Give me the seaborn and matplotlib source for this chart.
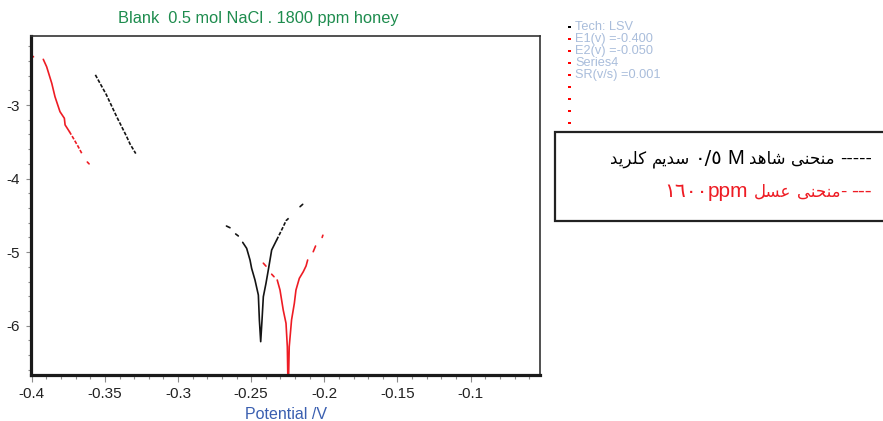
import matplotlib
matplotlib.use("Agg")
import matplotlib.pyplot as plt
import seaborn as sns
import pandas as pd
from matplotlib.ticker import MultipleLocator
from matplotlib.patches import Rectangle
from matplotlib import font_manager
from matplotlib.ft2font import FT2Font

# ---------------- data (potential in V, log current) ----------------
blank_potential = [-0.3565, -0.3490, -0.3419, -0.3351, -0.3328, -0.3289,
                   -0.2669, -0.2645,
                   -0.2606, -0.2588,
                   -0.2558, -0.2531, -0.2508, -0.2497, -0.2474, -0.2451, -0.2444, -0.2435,
                   -0.2426, -0.2417, -0.2399, -0.2383, -0.2360, -0.2326,
                   -0.2326, -0.2303, -0.2281, -0.2262, -0.2240,
                   -0.2166, -0.2148]
blank_logi = [-2.59, -2.86, -3.16, -3.43, -3.53, -3.66,
              -4.645, -4.668,
              -4.753, -4.78,
              -4.867, -4.948, -5.107, -5.22, -5.379, -5.583, -5.923, -6.217,
              -5.923, -5.606, -5.425, -5.243, -4.971, -4.835,
              -4.835, -4.744, -4.654, -4.573, -4.532,
              -4.382, -4.35]
blank_segment = ["b1"] * 6 + ["b2"] * 2 + ["b3"] * 2 + ["b4"] * 14 + ["b5"] * 5 + ["b6"] * 2

honey_potential = [-0.3998, -0.3988,
                   -0.3921, -0.3898, -0.3863, -0.3841, -0.3807, -0.3777, -0.3772, -0.3743,
                   -0.3743, -0.3716, -0.3682, -0.3658,
                   -0.3620, -0.3608,
                   -0.2417, -0.2399,
                   -0.2360, -0.2344,
                   -0.2322, -0.2303, -0.2281, -0.2262, -0.2253, -0.2249, -0.2245, -0.2240,
                   -0.2224, -0.2205, -0.2194, -0.2171, -0.2144, -0.2125, -0.2114,
                   -0.2076, -0.2060,
                   -0.2015, -0.2010]
honey_logi = [-2.33, -2.345,
              -2.379, -2.48, -2.705, -2.887, -3.09, -3.18, -3.27, -3.36,
              -3.36, -3.45, -3.567, -3.657,
              -3.775, -3.80,
              -5.15, -5.19,
              -5.30, -5.334,
              -5.379, -5.515, -5.787, -5.967, -6.285, -6.75, -6.75, -6.285,
              -5.92, -5.695, -5.515, -5.356, -5.266, -5.188, -5.107,
              -4.994, -4.917,
              -4.80, -4.77]
honey_segment = (["h1"] * 2 + ["h2"] * 8 + ["h3"] * 4 + ["h4"] * 2 + ["h5"] * 2 +
                 ["h6"] * 2 + ["h7"] * 15 + ["h8"] * 2 + ["h9"] * 2)

x_ticks = [-0.4, -0.35, -0.3, -0.25, -0.2, -0.15, -0.1]
x_tick_labels = ["-0.4", "-0.35", "-0.3", "-0.25", "-0.2", "-0.15", "-0.1"]
y_ticks = [-6, -5, -4, -3]
y_tick_labels = ["-6", "-5", "-4", "-3"]

title_text = "Blank  0.5 mol NaCl . 1800 ppm honey"
xlabel_text = "Potential /V"
info_lines = ["Tech: LSV", "E1(v) =-0.400", "E2(v) =-0.050", "Series4", "SR(v/s) =0.001", "", "", "", ""]
info_marker_colors = ["black", "red", "red", "red", "red", "red", "red", "red", "red"]

# ---------------- figure ----------------
W, H = 883, 421
sns.set_theme(style="white")
plt.rcParams["font.family"] = ["Liberation Sans", "DejaVu Sans"]

fig = plt.figure(figsize=(W / 100, H / 100), dpi=100)
ax_left, ax_right, ax_top, ax_bottom = 30.7, 540.0, 35.5, 375.0
ax = fig.add_axes([ax_left / W, 1 - ax_bottom / H, (ax_right - ax_left) / W, (ax_bottom - ax_top) / H])

df = pd.concat([
    pd.DataFrame({"E": blank_potential, "logi": blank_logi, "seg": blank_segment, "series": "blank"}),
    pd.DataFrame({"E": honey_potential, "logi": honey_logi, "seg": honey_segment, "series": "honey"}),
], ignore_index=True)
dashed_segments = {"b1", "b5", "h3"}
df["look"] = ["dashed" if s in dashed_segments else "solid" for s in df["seg"]]

BLACK = "#141414"
RED = "#ee1c24"
sns.lineplot(data=df, x="E", y="logi", hue="series", units="seg", estimator=None, sort=False,
             style="look", dashes={"solid": "", "dashed": (2.2, 1.0)},
             palette={"blank": BLACK, "honey": RED}, legend=False, linewidth=1.2, ax=ax)

ax.set_xlim(-0.4007, -0.0526)
ax.set_ylim(-6.67, -2.055)
ax.set_xticks(x_ticks)
ax.set_xticklabels(x_tick_labels)
ax.set_yticks(y_ticks)
ax.set_yticklabels(y_tick_labels)
ax.xaxis.set_minor_locator(MultipleLocator(0.01))
ax.yaxis.set_minor_locator(MultipleLocator(0.2))
ax.set_xlabel("")
ax.set_ylabel("")

for side in ["left", "bottom"]:
    ax.spines[side].set_linewidth(2.3)
    ax.spines[side].set_color("#1a1a1a")
for side in ["top", "right"]:
    ax.spines[side].set_linewidth(1.2)
    ax.spines[side].set_color("#333333")

ax.tick_params(axis="x", which="major", direction="out", length=5, width=0.8, color="#8c8c8c",
               labelsize=11, labelcolor="#222222", pad=4, bottom=True)
ax.tick_params(axis="x", which="minor", direction="out", length=3, width=0.8, color="#8c8c8c", bottom=True)
ax.tick_params(axis="y", which="major", direction="out", length=3.5, width=0.8, color="#8c8c8c",
               labelsize=11, labelcolor="#222222", pad=4, left=True)
ax.tick_params(axis="y", which="minor", direction="out", length=2.5, width=0.8, color="#8c8c8c", left=True)

# title and axis label
fig.text(258 / W, 1 - 22.7 / H, title_text, ha="center", va="baseline", fontsize=11.8, color="#1e8c4e")
fig.text(286 / W, 1 - 419 / H, xlabel_text, ha="center", va="baseline", fontsize=11.5, color="#3a5fb0")

# info panel
for i, (txt, mc) in enumerate(zip(info_lines, info_marker_colors)):
    yc = 26.7 + i * 12.05
    fig.patches.append(Rectangle((568.3 / W, 1 - (yc + 1.0) / H), 2.5 / W, 2.0 / H,
                                 transform=fig.transFigure, facecolor=mc, edgecolor="none"))
    if txt:
        fig.text(575 / W, 1 - yc / H, txt, ha="left", va="center", fontsize=9.2, color="#a9bddb")

# ---------------- Persian legend box ----------------
fig.patches.append(Rectangle((555 / W, 1 - 221 / H), 340 / W, (221 - 132.3) / H,
                             transform=fig.transFigure, facecolor="white", edgecolor="#222222",
                             linewidth=1.6, clip_on=False))

dv_path = font_manager.findfont(font_manager.FontProperties(family="DejaVu Sans"))
cmap = FT2Font(dv_path).get_charmap()

FORMS = {
    "ا": ("\uFE8D", "\uFE8E", None, None),
    "د": ("\uFEA9", "\uFEAA", None, None),
    "ر": ("\uFEAD", "\uFEAE", None, None),
    "م": ("\uFEE1", "\uFEE2", "\uFEE3", "\uFEE4"),
    "ن": ("\uFEE5", "\uFEE6", "\uFEE7", "\uFEE8"),
    "ح": ("\uFEA1", "\uFEA2", "\uFEA3", "\uFEA4"),
    "ی": ("\uFBFC", "\uFBFD", "\uFBFE", "\uFBFF"),
    "ش": ("\uFEB5", "\uFEB6", "\uFEB7", "\uFEB8"),
    "ه": ("\uFEE9", "\uFEEA", "\uFEEB", "\uFEEC"),
    "س": ("\uFEB1", "\uFEB2", "\uFEB3", "\uFEB4"),
    "ک": ("\uFB8E", "\uFB8F", "\uFB90", "\uFB91"),
    "ل": ("\uFEDD", "\uFEDE", "\uFEDF", "\uFEE0"),
    "ع": ("\uFEC9", "\uFECA", "\uFECB", "\uFECC"),
}
FALLBACK = {
    "ی": ("\uFEEF", "\uFEF0", "\uFEF3", "\uFEF4"),
    "ک": ("\uFED9", "\uFEDA", "\uFEDB", "\uFEDC"),
}
for ch, forms in FALLBACK.items():
    if any(f is not None and ord(f) not in cmap for f in FORMS[ch]):
        FORMS[ch] = forms


def visual(word):
    """Shape a Persian word into presentation forms in visual (left-to-right) order."""
    out = []
    n = len(word)
    for i, c in enumerate(word):
        if c not in FORMS:
            out.append(c)
            continue
        prev_j = i > 0 and word[i - 1] in FORMS and FORMS[word[i - 1]][2] is not None
        next_j = i < n - 1 and word[i + 1] in FORMS and FORMS[c][2] is not None
        idx = {(False, False): 0, (True, False): 1, (False, True): 2, (True, True): 3}[(prev_j, next_j)]
        out.append(FORMS[c][idx])
    return "".join(reversed(out))


renderer = fig.canvas.get_renderer()


def line_rtl(x_right, y_base, tokens, color):
    """Place tokens from right to left; each token: (text, size, family, gap_to_next_left_px)."""
    x = x_right
    for text, size, family, gap in tokens:
        t = fig.text(x / W, 1 - y_base / H, text, ha="right", va="baseline", fontsize=size,
                     family=family, color=color)
        w = t.get_window_extent(renderer).width
        x = x - w - gap


PS = 12  # Persian text size
# line 1 (black): "----- منحنی شاهد M ۰/۵ سدیم کلرید"
line_rtl(872, 164, [
    ("-----", 13.5, "Liberation Sans", 6),
    (visual("منحنی"), PS, "DejaVu Sans", 5),
    (visual("شاهد"), PS, "DejaVu Sans", 5),
    ("M", 14.5, "Liberation Sans", 5),
    ("٠/٥", 14, "DejaVu Sans", 5),
    (visual("سدیم"), PS, "DejaVu Sans", 5),
    (visual("کلرید"), PS, "DejaVu Sans", 0),
], "black")

# line 2 (red): "--- -منحنی عسل ۱۶۰۰ppm"
line_rtl(872, 197, [
    ("---", 15, "Liberation Sans", 5),
    ("-", 13.5, "Liberation Sans", 0),
    (visual("منحنی"), PS, "DejaVu Sans", 5),
    (visual("عسل"), PS, "DejaVu Sans", 6),
    ("ppm", 15, "Liberation Sans", 0),
    ("١٦٠٠", 14.5, "DejaVu Sans", 0),
], RED)

fig.savefig("out.png", dpi=100, facecolor="white")
